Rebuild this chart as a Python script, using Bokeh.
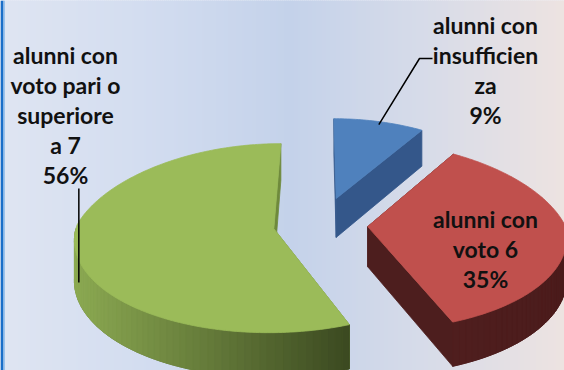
import numpy as np
from bokeh.plotting import figure
from bokeh.models import Range1d
from bokeh.core.properties import value
from bokeh.embed import file_html
from bokeh.resources import INLINE

# ---------------- data ----------------
categories = ["alunni con insufficienza", "alunni con voto 6",
              "alunni con voto pari o superiore a 7"]
percent = [9, 35, 56]
label_lines = [["alunni con", "insufficien", "za"],
               ["alunni con", "voto 6"],
               ["alunni con", "voto pari o", "superiore", "a 7"]]

# ---------------- style / layout ----------------
top_colors = ["#4f81bd", "#c0504d", "#9bbb59"]
side_light = [(52, 88, 136), (79, 30, 30), (140, 170, 82)]
side_dark = [(50, 84, 130), (75, 28, 28), (60, 74, 33)]
radial_colors = ["#34578a", "#4d1e1e", "#6f8a3c"]
explode = [0.30, 0.24, 0.24]

W, H = 564, 370
CX, CY = 320.0, 224.0   # pie centre (page px)
A, B = 197.0, 92.7      # radii of the projected ellipse
PX_BACK, PX_FRONT = 0.18, 0.10   # horizontal perspective
PY = 0.10                        # vertical perspective
D = 40.0                         # thickness

FONT = "Lato"
FS = "23px"
LINE_H = 30
label_anchor = [(485, 24), (485, 218), (65, 54)]   # x centre, y of first line


def proj(X, Z, d=0.0):
    px = PX_BACK if Z < 0 else PX_FRONT
    sx = 1.0 / (1.0 - px * Z)
    sy = 1.0 / (1.0 - PY * Z)
    return CX + A * X * sx, CY + (B * Z + d) * sy


def hexc(c):
    return "#%02x%02x%02x" % tuple(int(round(v)) for v in c)


p = figure(width=W, height=H, output_backend="svg", toolbar_location=None,
           x_range=Range1d(0, W), y_range=Range1d(H, 0))
p.min_border = 0
p.axis.visible = False
p.grid.visible = False
p.outline_line_color = None
p.background_fill_color = "#dfe5f2"
p.border_fill_color = "#dfe5f2"

# background gradient
stops_x = [0, 140, 290, 420, 564]
stops_c = [(223, 229, 242), (211, 221, 240), (196, 210, 234), (214, 219, 233), (237, 227, 225)]
xs = np.arange(0, W, 2)
bg_cols = []
for x in xs:
    c = [np.interp(x + 1, stops_x, [s[k] for s in stops_c]) for k in range(3)]
    bg_cols.append(hexc(c))
p.quad(left=xs, right=xs + 2, top=0, bottom=H, fill_color=bg_cols,
       line_color=bg_cols, line_width=1)
# left frame border
p.quad(left=[0], right=[3], top=[0], bottom=[H], fill_color="#1a6ec8", line_color=None)
p.quad(left=[3], right=[4.5], top=[0], bottom=[H], fill_color="#9cc3ec", line_color=None)

# ---------------- pie geometry ----------------
total = float(sum(percent))
starts = np.cumsum([0] + percent[:-1]) / total * 360.0
ends = np.cumsum(percent) / total * 360.0

rim_pts = []
for i in range(len(percent)):
    a0, a1 = starts[i], ends[i]
    m = np.radians((a0 + a1) / 2)
    ox, oz = explode[i] * np.sin(m), -explode[i] * np.cos(m)

    def top(th, d=0.0):
        t = np.radians(th)
        return proj(ox + np.sin(t), oz - np.cos(t), d)

    def zof(th):
        return oz - np.cos(np.radians(th))

    ax_t, ay_t = proj(ox, oz)
    ax_b, ay_b = proj(ox, oz, D)

    faces = []  # (depth, xs, ys, color)
    for th in (a0, a1):
        rx_t, ry_t = top(th)
        rx_b, ry_b = top(th, D)
        faces.append(((oz + zof(th)) / 2, [ax_t, rx_t, rx_b, ax_b],
                      [ay_t, ry_t, ry_b, ay_b], radial_colors[i]))

    # outer curved side (front half only)
    lo, hi = max(a0, 90.0), min(a1, 270.0)
    segs = []
    if hi > lo:
        ths = np.linspace(lo, hi, int((hi - lo) / 2) + 2)
        for t1, t2 in zip(ths[:-1], ths[1:]):
            x1, y1 = top(t1)
            x2, y2 = top(t2)
            x3, y3 = top(t2, D)
            x4, y4 = top(t1, D)
            segs.append(((zof(t1) + zof(t2)) / 2, [x1, x2, x3, x4], [y1, y2, y3, y4]))
        # continuous underlay to hide seams between segments
        ux = [top(t)[0] for t in ths] + [top(t, D)[0] for t in ths[::-1]]
        uy = [top(t)[1] for t in ths] + [top(t, D)[1] for t in ths[::-1]]
        mid = [(side_light[i][k] + side_dark[i][k]) / 2 for k in range(3)]
        faces.append((-10.0, ux, uy, hexc(mid)))
    if segs:
        sxs = [np.mean(s[1]) for s in segs]
        xmin, xmax = min(sxs), max(sxs)
        for (dz, sx, sy), cx in zip(segs, sxs):
            t = 0.0 if xmax == xmin else (cx - xmin) / (xmax - xmin)
            c = [side_light[i][k] + (side_dark[i][k] - side_light[i][k]) * t for k in range(3)]
            faces.append((dz + 0.5, sx, sy, hexc(c)))

    faces.sort(key=lambda f: f[0])
    p.patches(xs=[f[1] for f in faces], ys=[f[2] for f in faces],
              fill_color=[f[3] for f in faces], line_color=[f[3] for f in faces],
              line_width=0.8)

    arc = np.linspace(a0, a1, int(a1 - a0) + 2)
    tx, ty = [ax_t], [ay_t]
    for th in arc:
        x, y = top(th)
        tx.append(x)
        ty.append(y)
    p.patch(tx, ty, fill_color=top_colors[i], line_color=top_colors[i], line_width=0.8)
    rim_pts.append(top((a0 + a1) / 2))

# ---------------- labels ----------------
for i in range(len(percent)):
    lines = label_lines[i] + ["%d%%" % percent[i]]
    x0, y0 = label_anchor[i]
    p.text(x=[x0] * len(lines), y=[y0 + LINE_H * k for k in range(len(lines))],
           text=lines, text_font=value(FONT), text_font_size=FS,
           text_font_style="bold", text_align="center", text_baseline="middle",
           text_color="#111111")

# leader lines
bx, by = rim_pts[0]
lx, ly = label_anchor[0]
end_x, end_y = lx - 53, ly + LINE_H + 4
p.line([bx, end_x - 13, end_x], [by + 3, end_y, end_y], line_color="black", line_width=1.5)
gx, gy = rim_pts[2]
gl_x, gl_y = label_anchor[2]
p.line([gx + 4, gx + 4], [gl_y + LINE_H * 4 + 14, gy + 36], line_color="black", line_width=1.5)

open("out.html", "w").write(file_html(p, INLINE))
